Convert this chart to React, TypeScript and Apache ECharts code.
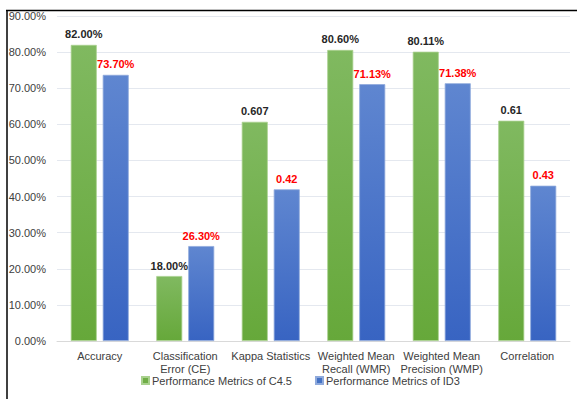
import React, { useEffect, useRef } from "react";
import * as echarts from "echarts";

const categories = [
  "Accuracy",
  "Classification\nError (CE)",
  "Kappa Statistics",
  "Weighted Mean\nRecall (WMR)",
  "Weighted Mean\nPrecision (WMP)",
  "Correlation",
];
const c45Values = [82.0, 18.0, 60.7, 80.6, 80.11, 61.0];
const id3Values = [73.7, 26.3, 42.0, 71.13, 71.38, 43.0];
const c45Labels = ["82.00%", "18.00%", "0.607", "80.60%", "80.11%", "0.61"];
const id3Labels = ["73.70%", "26.30%", "0.42", "71.13%", "71.38%", "0.43"];
const seriesNames = ["Performance Metrics of C4.5", "Performance Metrics of ID3"];

const FONT = "'Liberation Sans', Arial, sans-serif";

export default function App() {
  const ref = useRef<HTMLDivElement>(null);
  useEffect(() => {
    if (!ref.current) return;
    const chart = echarts.init(ref.current, null, { renderer: "svg" });
    const greenGrad = new echarts.graphic.LinearGradient(0, 0, 0, 1, [
      { offset: 0, color: "#80b960" },
      { offset: 1, color: "#66a83a" },
    ]);
    const blueGrad = new echarts.graphic.LinearGradient(0, 0, 0, 1, [
      { offset: 0, color: "#5f86d0" },
      { offset: 1, color: "#3864c2" },
    ]);
    chart.setOption({
      animation: false,
      backgroundColor: "#ffffff",
      textStyle: { fontFamily: FONT },
      grid: { left: 57, right: 7, top: 16, bottom: 58, containLabel: false },
      legend: {
        bottom: 8,
        left: 136,
        itemWidth: 7,
        itemHeight: 7,
        itemGap: 23,
        icon: "rect",
        textStyle: { fontFamily: FONT, fontSize: 11, color: "#404040", padding: [0, 0, 0, -2] },
        data: [
          { name: seriesNames[0], itemStyle: { color: "#70ad47" } },
          { name: seriesNames[1], itemStyle: { color: "#4472c4" } },
        ],
      },
      xAxis: {
        type: "category",
        data: categories,
        axisLine: { show: true, lineStyle: { color: "#d9d9d9" } },
        axisTick: { show: false },
        axisLabel: {
          fontFamily: FONT,
          fontSize: 11,
          color: "#404040",
          interval: 0,
          margin: 8,
          lineHeight: 13,
        },
      },
      yAxis: {
        type: "value",
        min: 0,
        max: 90,
        interval: 10,
        axisLine: { show: false },
        axisTick: { show: false },
        splitLine: { lineStyle: { color: "#e4e8ef" } },
        axisLabel: {
          fontFamily: FONT,
          fontSize: 11,
          color: "#404040",
          margin: 11,
          formatter: (v: number) => v.toFixed(2) + "%",
        },
      },
      series: [
        {
          name: seriesNames[0],
          type: "bar",
          data: c45Values,
          barWidth: 26,
          barGap: "23%",
          itemStyle: { color: greenGrad, borderColor: "#a9d18e", borderWidth: 0.8 },
          label: {
            show: true,
            position: "top",
            distance: 5,
            fontFamily: FONT,
            fontSize: 11,
            fontWeight: "bold",
            color: "#262626",
            formatter: (p: any) => c45Labels[p.dataIndex],
          },
        },
        {
          name: seriesNames[1],
          type: "bar",
          data: id3Values,
          barWidth: 26,
          itemStyle: { color: blueGrad, borderColor: "#8faadc", borderWidth: 0.8 },
          label: {
            show: true,
            position: "top",
            distance: 5,
            fontFamily: FONT,
            fontSize: 11,
            fontWeight: "bold",
            color: "#ff0000",
            formatter: (p: any) => id3Labels[p.dataIndex],
          },
        },
      ],
      graphic: [
        { type: "line", shape: { x1: 6, y1: 10.5, x2: 577, y2: 10.5 }, style: { stroke: "#000", lineWidth: 1.5 } },
        { type: "line", shape: { x1: 7, y1: 10, x2: 7, y2: 399 }, style: { stroke: "#000", lineWidth: 1.5 } },
      ],
    });
    return () => chart.dispose();
  }, []);
  return <div ref={ref} style={{ width: 577, height: 399, position: "absolute", left: 0, top: 0 }} />;
}
